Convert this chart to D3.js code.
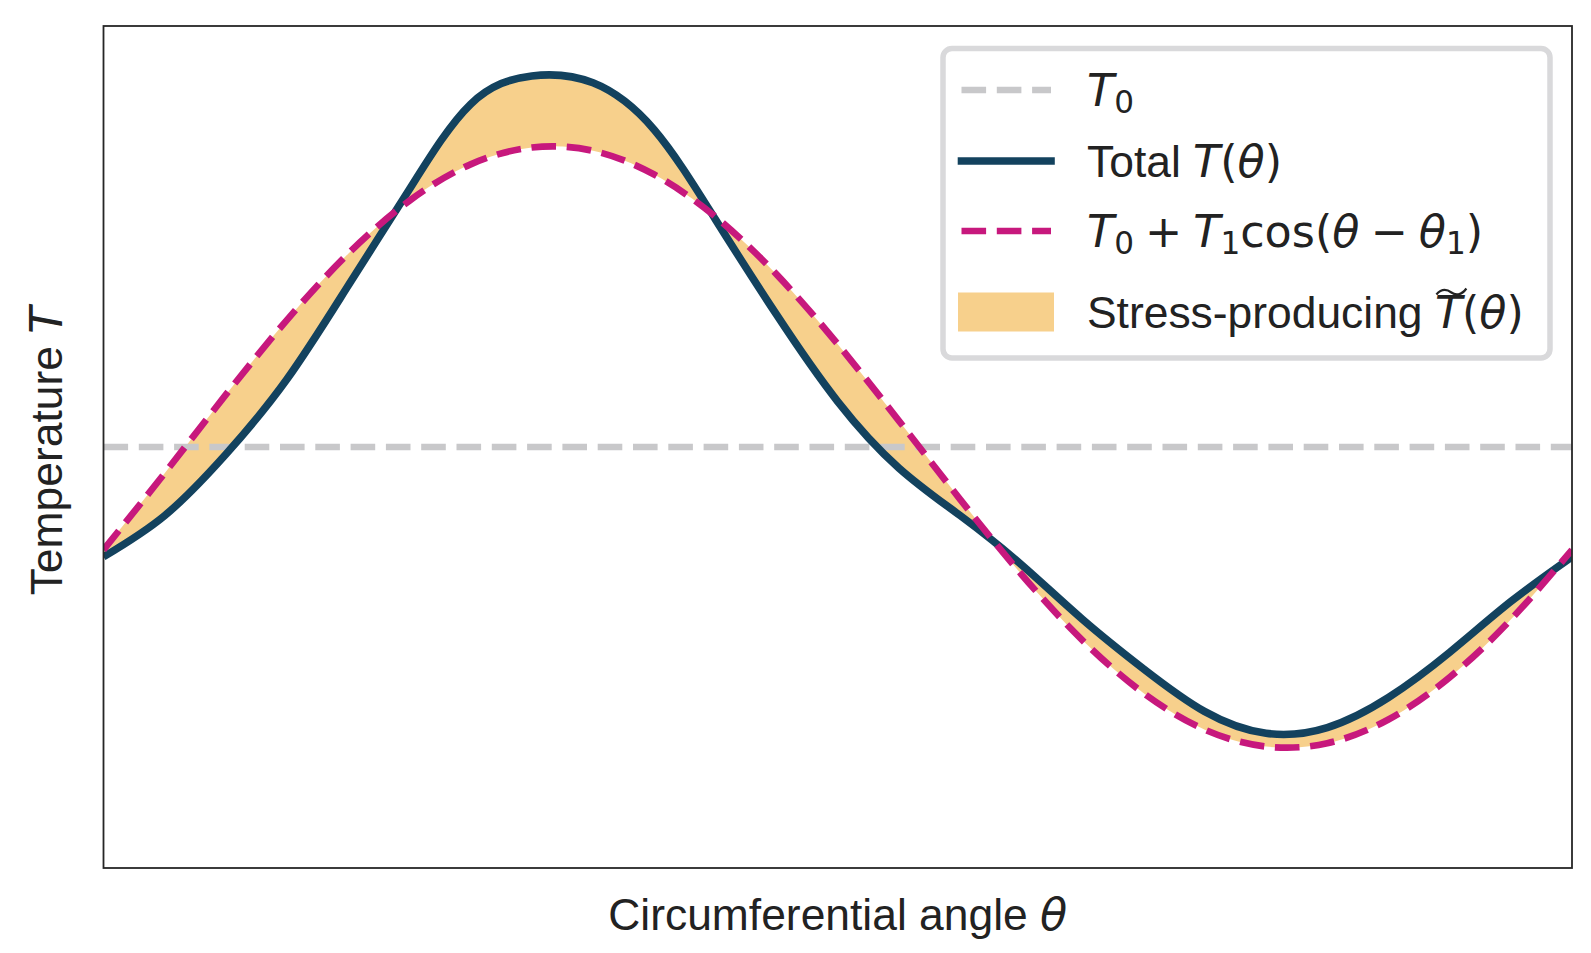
<!DOCTYPE html>
<html lang="en">
<head>
<meta charset="UTF-8">
<title>Stress-producing temperature</title>
<script src="https://d3js.org/d3.v7.min.js"></script>
<style>
  body { margin: 0; background: #fff; }
  svg { display: block; }
  .lbl { font-family: "Liberation Sans", Arial, sans-serif; fill: #222; }
</style>
</head>
<body>
<div id="chart"></div>
<script>
// values (T0 = 0, first-harmonic amplitude = 1)
const thetaDeg = [0, 15, 30, 45, 60, 75, 90, 105, 120, 135, 150, 165, 180,
                  195, 210, 225, 240, 255, 270, 285, 300, 315, 330, 345, 360];
const totalT = [-0.365, -0.228, -0.024, 0.226, 0.537, 0.857, 1.140, 1.234, 1.211,
                1.055, 0.757, 0.440, 0.151, -0.070, -0.228, -0.391, -0.573, -0.738,
                -0.880, -0.952, -0.933, -0.833, -0.683, -0.514, -0.365];
const firstHarmonicT = [-0.342, -0.087, 0.174, 0.423, 0.643, 0.819, 0.940, 0.996, 0.985,
                        0.906, 0.766, 0.574, 0.342, 0.087, -0.174, -0.423, -0.643, -0.819,
                        -0.940, -0.996, -0.985, -0.906, -0.766, -0.574, -0.342];
const baseT = 0;
const yLimits = [-1.4, 1.4];
const xLimits = [0, 360];

const width = 1591, height = 953;
const margin = {top: 26, right: 19, bottom: 85, left: 103.5};
const fs = 44.4;

const colors = {
    base: "#c8c8ca",
    total: "#13425e",
    harm: "#c7187d",
    fill: "#f7d08c",
    frame: "#262626",
    legendEdge: "#d9d9db"
};

const data = thetaDeg.map((t, i) => ({theta: t, total: totalT[i], harm: firstHarmonicT[i]}));

const svg = d3.select("#chart").append("svg")
    .attr("width", width)
    .attr("height", height);

svg.append("rect").attr("width", width).attr("height", height).attr("fill", "#fff");

const x = d3.scaleLinear().domain(xLimits).range([margin.left, width - margin.right]);
const y = d3.scaleLinear().domain(yLimits).range([height - margin.bottom, margin.top]);

svg.append("clipPath").attr("id", "plot-clip")
  .append("rect")
    .attr("x", x.range()[0]).attr("y", margin.top)
    .attr("width", x.range()[1] - x.range()[0])
    .attr("height", height - margin.bottom - margin.top);

const plot = svg.append("g").attr("clip-path", "url(#plot-clip)");
const curve = d3.curveNatural;

// stress-producing part, between total and first harmonic
plot.append("path")
    .datum(data)
    .attr("fill", colors.fill)
    .attr("d", d3.area()
        .x(d => x(d.theta))
        .y0(d => y(d.harm))
        .y1(d => y(d.total))
        .curve(curve));

// T0
plot.append("line")
    .attr("x1", x(xLimits[0])).attr("x2", x(xLimits[1]))
    .attr("y1", y(baseT)).attr("y2", y(baseT))
    .attr("stroke", colors.base)
    .attr("stroke-width", 6.7)
    .attr("stroke-dasharray", "24.6 10.7");

plot.append("path")
    .datum(data)
    .attr("fill", "none")
    .attr("stroke", colors.total)
    .attr("stroke-width", 7.6)
    .attr("d", d3.line().x(d => x(d.theta)).y(d => y(d.total)).curve(curve));

plot.append("path")
    .datum(data)
    .attr("fill", "none")
    .attr("stroke", colors.harm)
    .attr("stroke-width", 6.7)
    .attr("stroke-dasharray", "24.6 10.7")
    .attr("d", d3.line().x(d => x(d.theta)).y(d => y(d.harm + baseT)).curve(curve));

// frame
svg.append("rect")
    .attr("x", x.range()[0]).attr("y", margin.top)
    .attr("width", x.range()[1] - x.range()[0])
    .attr("height", height - margin.bottom - margin.top)
    .attr("fill", "none")
    .attr("stroke", colors.frame)
    .attr("stroke-width", 1.8);

// text with math pieces: {t, math, it, sub}
function rich(textSel, parts, size) {
    let offset = 0;
    const shift = size * 0.16;
    parts.forEach(p => {
        const target = p.sub ? shift : 0;
        const ts = textSel.append("tspan").text(p.t).attr("dy", target - offset);
        offset = target;
        if (p.math) ts.attr("font-family", "'DejaVu Sans', sans-serif");
        if (p.it) ts.attr("font-style", "italic");
        if (p.sub) ts.attr("font-size", size * 0.7);
    });
    return textSel;
}

// axis labels
rich(svg.append("text").attr("class", "lbl")
    .attr("x", (x.range()[0] + x.range()[1]) / 2).attr("y", 930)
    .attr("text-anchor", "middle").attr("font-size", fs),
    [{t: "Circumferential angle "}, {t: "\u03b8", math: true, it: true}], fs);

rich(svg.append("text").attr("class", "lbl")
    .attr("transform", `translate(62,${(y.range()[0] + y.range()[1]) / 2 + 4}) rotate(-90)`)
    .attr("text-anchor", "middle").attr("font-size", fs),
    [{t: "Temperature "}, {t: "T", math: true, it: true}], fs);

// legend
const lg = svg.append("g");
const lgBox = {x0: 943, y0: 48.5, x1: 1550, y1: 358};
lg.append("rect")
    .attr("x", lgBox.x0).attr("y", lgBox.y0)
    .attr("width", lgBox.x1 - lgBox.x0).attr("height", lgBox.y1 - lgBox.y0)
    .attr("rx", 9)
    .attr("fill", "#fff")
    .attr("stroke", colors.legendEdge)
    .attr("stroke-width", 5.5);

const hx0 = 961.5, hx1 = 1051, tx = 1087;
const sp = "\u2005";
const rows = [
    {y: 90, kind: "line", color: colors.base, w: 6.7, dash: "24.6 10.7",
     parts: [{t: "T", math: true, it: true}, {t: "0", math: true, sub: true}]},
    {y: 161, kind: "line", color: colors.total, w: 7.6, dash: null,
     parts: [{t: "Total "}, {t: "T", math: true, it: true}, {t: "(", math: true},
             {t: "\u03b8", math: true, it: true}, {t: ")", math: true}]},
    {y: 231, kind: "line", color: colors.harm, w: 6.7, dash: "24.6 10.7",
     parts: [{t: "T", math: true, it: true}, {t: "0", math: true, sub: true},
             {t: sp + "+" + sp, math: true}, {t: "T", math: true, it: true}, {t: "1", math: true, sub: true},
             {t: "cos(", math: true}, {t: "\u03b8", math: true, it: true}, {t: sp + "\u2212" + sp, math: true},
             {t: "\u03b8", math: true, it: true}, {t: "1", math: true, sub: true}, {t: ")", math: true}]},
    {y: 312, kind: "patch", color: colors.fill,
     parts: [{t: "Stress-producing "}, {t: "T", math: true, it: true}, {t: "(", math: true},
             {t: "\u03b8", math: true, it: true}, {t: ")", math: true}]}
];

rows.forEach(r => {
    if (r.kind === "line") {
        lg.append("line")
            .attr("x1", hx0).attr("x2", hx1).attr("y1", r.y).attr("y2", r.y)
            .attr("stroke", r.color).attr("stroke-width", r.w)
            .attr("stroke-linecap", r.dash ? "butt" : "square")
            .attr("stroke-dasharray", r.dash);
    } else {
        lg.append("rect")
            .attr("x", 958).attr("y", r.y - 19.5)
            .attr("width", 96).attr("height", 39)
            .attr("fill", r.color);
    }
    const t = rich(lg.append("text").attr("class", "lbl")
        .attr("x", tx).attr("y", r.y + 15.5)
        .attr("font-size", fs), r.parts, fs);
    if (r.kind === "patch") {
        // wide tilde over the italic T
        const tT = t.selectAll("tspan").nodes()[1];
        const b = tT.getBBox();
        const cx = b.x + b.width * 0.55, ty = b.y + 4;
        lg.append("path")
            .attr("d", `M${cx - 15},${ty + 4} C${cx - 9},${ty - 3} ${cx - 4},${ty - 1} ${cx},${ty + 2} S${cx + 10},${ty + 5} ${cx + 15},${ty - 2}`)
            .attr("fill", "none")
            .attr("stroke", "#222")
            .attr("stroke-width", 2.2);
    }
});
</script>
</body>
</html>
